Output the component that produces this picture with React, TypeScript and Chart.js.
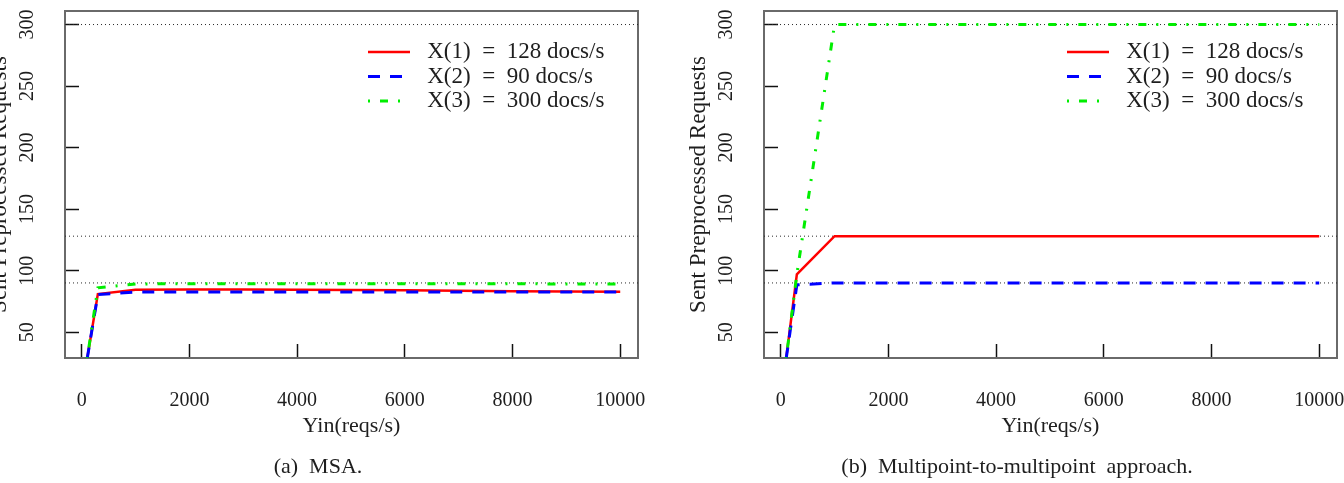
import { useEffect, useRef } from 'react';
import { Chart, registerables } from 'chart.js';

Chart.register(...registerables);

// Offered load (requests per second) at which each run was sampled
const yin = [100, 300, 1000, 2000, 3000, 4000, 5000, 6000, 7000, 8000, 9000, 10000];

// Processing capacity of each node (docs/s)
const capacities = [128, 90, 300];
const seriesNames = capacities.map((c, i) => ` X(${i + 1})  =  ${c} docs/s`);

// (a) MSA: sent preprocessed requests per node
const msaX1 = [28, 81, 84.5, 84.6, 84.6, 84.5, 84.3, 84.0, 83.6, 83.3, 83.0, 82.8];
const msaX2 = [28, 80.5, 82.7, 82.7, 82.7, 82.7, 82.7, 82.7, 82.7, 82.7, 82.7, 82.7];
const msaX3 = [28, 86, 89.2, 89.3, 89.3, 89.3, 89.4, 89.3, 89.3, 89.3, 89.2, 89.2];

// (b) Multipoint-to-multipoint approach
const mpX1 = [28, 97, 128, 128, 128, 128, 128, 128, 128, 128, 128, 128];
const mpX2 = [28, 88.5, 90, 90, 90, 90, 90, 90, 90, 90, 90, 90];
const mpX3 = [28, 97, 300, 300, 300, 300, 300, 300, 300, 300, 300, 300];

// Axis ticks and ranges
const yinTicks = [0, 2000, 4000, 6000, 8000, 10000];
const requestTicks = [50, 100, 150, 200, 250, 300];
const xRange = [-310, 10330];
const yRange = [29, 311];

const FONT = "'Liberation Serif', serif";
const TEXT = '#1e1e1e';
const FRAME = '#6a6a6a';

// Line style per series
const seriesStyles = [
  { color: '#ff0000', width: 2.5, dash: [] as number[] },
  { color: '#0000ff', width: 3, dash: [12, 10] },
  { color: '#00ee00', width: 3, dash: [2, 10, 8, 10] },
];

// Moves the chart-area legend to the upper right of the plot
const legendPlacer = {
  id: 'legendPlacer',
  afterLayout(chart: any) {
    const lg = chart.legend;
    const a = chart.chartArea;
    if (!lg || !a) return;
    lg.left = a.left + 301.5;
    lg.top = a.top + 28;
    lg.right = a.right;
    lg.bottom = a.bottom;
    lg.width = lg.right - lg.left;
    lg.height = lg.bottom - lg.top;
  },
};

// Legend entries drawn as line samples carrying each dataset's dash and width
function lineLabels(chart: any) {
  const base = (Chart.defaults.plugins.legend.labels as any).generateLabels(chart);
  return base.map((item: any) => {
    const ds = chart.data.datasets[item.datasetIndex];
    return {
      ...item,
      lineDash: ds.borderDash || [],
      lineDashOffset: 0,
      lineWidth: ds.borderWidth,
      strokeStyle: ds.borderColor,
      pointStyle: 'line',
    };
  });
}

function buildConfig(values: number[][], caption: string): any {
  const datasets: any[] = [
    ...values.map((v, i) => ({
      label: seriesNames[i],
      data: yin.map((x, j) => ({ x, y: v[j] })),
      borderColor: seriesStyles[i].color,
      backgroundColor: seriesStyles[i].color,
      borderWidth: seriesStyles[i].width,
      borderDash: seriesStyles[i].dash,
      pointRadius: 0,
      pointStyle: 'line',
      tension: 0,
      fill: false,
      order: 3 - i,
    })),
    ...capacities.map((c) => ({
      label: '',
      data: [
        { x: xRange[0], y: c },
        { x: xRange[1], y: c },
      ],
      borderColor: '#2a2a2a',
      borderWidth: 1,
      borderDash: [1, 3],
      pointRadius: 0,
      tension: 0,
      fill: false,
      order: 10,
    })),
  ];

  return {
    type: 'line',
    data: { datasets },
    plugins: [legendPlacer],
    options: {
      animation: false,
      responsive: false,
      events: [],
      layout: { padding: 0 },
      scales: {
        x: {
          type: 'linear',
          position: 'bottom',
          min: xRange[0],
          max: xRange[1],
          afterBuildTicks: (s: any) => {
            s.ticks = yinTicks.map((value) => ({ value }));
          },
          afterFit: (s: any) => {
            s.height = 95.6;
            s.paddingLeft = 0;
            s.paddingRight = 0;
          },
          grid: {
            drawOnChartArea: false,
            drawTicks: true,
            tickLength: -14,
            tickColor: '#111',
            tickWidth: 1.5,
          },
          border: { display: true, color: FRAME, width: 2 },
          ticks: {
            padding: 45,
            autoSkip: false,
            maxRotation: 0,
            color: TEXT,
            font: { family: FONT, size: 20 },
            callback: (v: number) => String(v),
          },
          title: {
            display: true,
            text: 'Yin(reqs/s)',
            color: TEXT,
            font: { family: FONT, size: 22 },
            padding: { top: 0, bottom: 14.4 },
          },
        },
        y: {
          type: 'linear',
          position: 'left',
          min: yRange[0],
          max: yRange[1],
          afterBuildTicks: (s: any) => {
            s.ticks = requestTicks.map((value) => ({ value }));
          },
          afterFit: (s: any) => {
            s.width = 101;
            s.paddingTop = 0;
            s.paddingBottom = 0;
          },
          grid: {
            drawOnChartArea: false,
            drawTicks: true,
            tickLength: -14,
            tickColor: '#111',
            tickWidth: 1.5,
          },
          border: { display: true, color: FRAME, width: 2 },
          ticks: {
            padding: 36,
            autoSkip: false,
            minRotation: 90,
            maxRotation: 90,
            crossAlign: 'center',
            color: TEXT,
            font: { family: FONT, size: 20 },
            callback: (v: number) => String(v),
          },
          title: {
            display: true,
            text: 'Sent Preprocessed Requests',
            color: TEXT,
            font: { family: FONT, size: 23 },
            padding: { top: 22.2, bottom: 0 },
          },
        },
        xTop: {
          type: 'linear',
          position: 'top',
          min: xRange[0],
          max: xRange[1],
          afterFit: (s: any) => {
            s.height = 11;
            s.paddingLeft = 0;
            s.paddingRight = 0;
          },
          grid: { drawOnChartArea: false, drawTicks: false },
          border: { display: true, color: FRAME, width: 2 },
          ticks: { display: false },
        },
        yRight: {
          type: 'linear',
          position: 'right',
          min: yRange[0],
          max: yRange[1],
          afterFit: (s: any) => {
            s.width = 34;
            s.paddingTop = 0;
            s.paddingBottom = 0;
          },
          grid: { drawOnChartArea: false, drawTicks: false },
          border: { display: true, color: FRAME, width: 2 },
          ticks: { display: false },
        },
      },
      plugins: {
        tooltip: { enabled: false },
        legend: {
          display: true,
          position: 'chartArea',
          align: 'start',
          labels: {
            usePointStyle: true,
            pointStyle: 'line',
            pointStyleWidth: 42,
            padding: 1.5,
            color: TEXT,
            font: { family: FONT, size: 23 },
            generateLabels: lineLabels,
            filter: (item: any) => item.datasetIndex < 3,
            sort: (a: any, b: any) => a.datasetIndex - b.datasetIndex,
          },
        },
        title: {
          display: true,
          position: 'bottom',
          text: caption,
          color: TEXT,
          font: { family: FONT, size: 22, weight: 'normal', lineHeight: 1.2 },
          padding: { top: 0, bottom: 3 },
        },
      },
    },
  };
}

function Panel({ values, caption, left }: { values: number[][]; caption: string; left: number }) {
  const ref = useRef<HTMLCanvasElement>(null);
  useEffect(() => {
    if (!ref.current) return;
    const chart = new Chart(ref.current, buildConfig(values, caption));
    return () => chart.destroy();
  }, [values, caption]);
  return (
    <canvas
      ref={ref}
      width={708}
      height={483}
      style={{ position: 'absolute', left, top: 0, width: 708, height: 483 }}
    />
  );
}

const msaValues = [msaX1, msaX2, msaX3];
const mpValues = [mpX1, mpX2, mpX3];

export default function App() {
  return (
    <div
      style={{
        position: 'fixed',
        left: 0,
        top: 0,
        width: 1344,
        height: 483,
        overflow: 'hidden',
        background: '#fff',
      }}
    >
      <Panel values={msaValues} caption="(a)  MSA." left={-36} />
      <Panel values={mpValues} caption="(b)  Multipoint-to-multipoint  approach." left={663} />
    </div>
  );
}
